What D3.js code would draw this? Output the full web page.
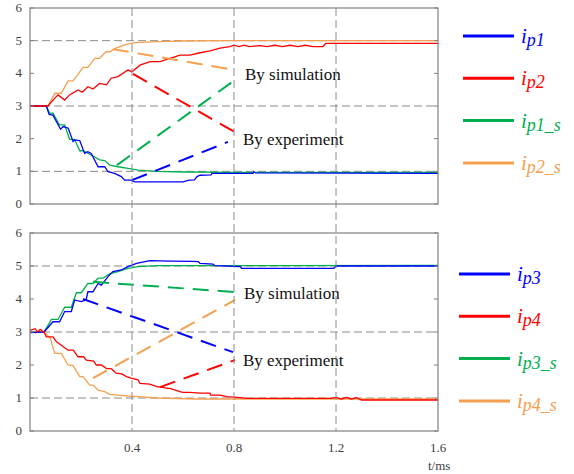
<!DOCTYPE html>
<html>
<head>
<meta charset="utf-8">
<script src="https://cdn.jsdelivr.net/npm/d3@7/dist/d3.min.js"></script>
<style>
body{margin:0;background:#fff;}
#chart{width:574px;height:474px;}
svg text{font-family:"Liberation Serif","DejaVu Serif",serif;}
</style>
</head>
<body>
<div id="chart"></div>
<script>
// t in ms, current in A
var ip1 = [[0,3.0],[0.064,3.0],[0.075,2.74],[0.09,2.72],[0.12,2.29],[0.13,2.37],[0.15,2.32],[0.169,1.91],[0.175,1.96],[0.195,1.94],[0.214,1.55],[0.227,1.6],[0.24,1.55],[0.267,1.14],[0.293,1.14],[0.306,0.99],[0.332,0.94],[0.358,0.84],[0.371,0.73],[0.397,0.73],[0.41,0.68],[0.6,0.68],[0.624,0.73],[0.645,0.74],[0.655,0.84],[0.667,0.88],[0.71,0.89],[0.714,0.94],[0.875,0.94],[0.878,0.99],[0.885,0.95],[1.6,0.94]];
var ip2 = [[0,3.0],[0.07,3.0],[0.09,3.18],[0.11,3.34],[0.136,3.18],[0.155,3.34],[0.188,3.49],[0.205,3.42],[0.227,3.59],[0.247,3.52],[0.273,3.69],[0.3,3.65],[0.318,3.85],[0.345,3.9],[0.384,4.1],[0.4,4.05],[0.431,4.25],[0.471,4.36],[0.51,4.36],[0.549,4.46],[0.588,4.56],[0.627,4.56],[0.667,4.63],[0.706,4.69],[0.745,4.77],[0.784,4.82],[0.8,4.86],[0.82,4.82],[0.84,4.86],[0.86,4.82],[0.9,4.85],[0.93,4.82],[0.96,4.86],[0.99,4.82],[1.02,4.86],[1.05,4.82],[1.08,4.86],[1.11,4.82],[1.149,4.82],[1.16,4.92],[1.6,4.92]];
var ip1_s = [[0,3.0],[0.064,3.0],[0.077,2.78],[0.09,2.78],[0.116,2.42],[0.136,2.42],[0.155,1.98],[0.175,1.98],[0.195,1.63],[0.208,1.63],[0.24,1.5],[0.273,1.35],[0.293,1.33],[0.313,1.19],[0.345,1.14],[0.384,1.09],[0.424,1.04],[0.5,1.0],[0.6,0.98],[0.8,0.97],[1.6,0.97]];
var ip2_s = [[0,3.0],[0.071,3.0],[0.097,3.39],[0.123,3.39],[0.149,3.77],[0.169,3.77],[0.208,4.18],[0.227,4.18],[0.254,4.46],[0.273,4.46],[0.298,4.66],[0.312,4.66],[0.337,4.77],[0.371,4.87],[0.41,4.94],[0.5,4.97],[0.6,4.99],[0.8,5.0],[1.6,5.0]];

var ip3 = [[0,2.98],[0.055,3.0],[0.09,3.31],[0.116,3.31],[0.136,3.62],[0.162,3.62],[0.175,3.97],[0.201,3.92],[0.22,3.97],[0.227,4.22],[0.247,4.22],[0.267,4.47],[0.28,4.42],[0.306,4.68],[0.325,4.83],[0.358,4.88],[0.384,4.98],[0.418,5.08],[0.47,5.16],[0.55,5.15],[0.64,5.14],[0.66,5.13],[0.667,5.08],[0.718,5.06],[0.725,5.01],[0.824,4.98],[0.83,4.93],[1.19,4.93],[1.203,5.0],[1.6,5.0]];
var ip4 = [[0,3.05],[0.02,3.1],[0.03,3.0],[0.04,3.08],[0.05,3.02],[0.055,3.0],[0.064,2.85],[0.09,2.85],[0.103,2.71],[0.123,2.6],[0.149,2.45],[0.17,2.45],[0.188,2.25],[0.21,2.25],[0.221,2.15],[0.25,2.12],[0.26,2.0],[0.28,2.0],[0.299,1.9],[0.32,1.88],[0.338,1.75],[0.36,1.73],[0.378,1.65],[0.397,1.6],[0.424,1.55],[0.431,1.44],[0.47,1.42],[0.5,1.34],[0.51,1.34],[0.54,1.29],[0.549,1.29],[0.588,1.19],[0.6,1.17],[0.627,1.17],[0.667,1.15],[0.706,1.15],[0.708,1.09],[0.745,1.09],[0.771,1.04],[0.824,1.01],[0.85,0.99],[1.18,0.99],[1.2,1.02],[1.22,0.97],[1.24,1.02],[1.26,0.97],[1.28,1.01],[1.3,0.94],[1.6,0.94]];
var ip3_s = [[0,3.0],[0.055,3.0],[0.084,3.38],[0.11,3.38],[0.136,3.75],[0.162,3.75],[0.182,4.19],[0.201,4.19],[0.227,4.47],[0.247,4.47],[0.267,4.63],[0.286,4.63],[0.312,4.76],[0.345,4.83],[0.384,4.93],[0.424,4.98],[0.5,5.01],[1.6,5.02]];
var ip4_s = [[0,3.0],[0.055,3.0],[0.08,2.81],[0.097,2.35],[0.123,2.35],[0.149,2.0],[0.169,1.98],[0.195,1.65],[0.208,1.65],[0.234,1.39],[0.247,1.39],[0.267,1.24],[0.293,1.19],[0.312,1.11],[0.345,1.09],[0.384,1.06],[0.424,1.04],[0.5,1.0],[0.65,0.97],[1.6,0.97]];

// pointer lines: [colour, t0, v0, t1, v1]
var top_pointers = [["#f5a050",0.325,4.74,0.804,4.10],["#ff0000",0.404,3.98,0.804,2.20],["#00b050",0.341,1.19,0.804,3.80],["#0000ff",0.4,0.73,0.776,1.90]];
var bot_pointers = [["#00b050",0.247,4.52,0.804,4.21],["#0000ff",0.208,4.0,0.796,2.39],["#f5a050",0.247,1.6,0.804,3.97],["#ff0000",0.51,1.33,0.804,2.15]];

var y_ticks = [0,1,2,3,4,5,6];
var y_grid = [1,3,5];
var x_ticks = [0.4,0.8,1.2,1.6];
var x_grid = [0.4,0.8,1.2];

var serif = "'Liberation Serif','DejaVu Serif',serif";

var svg = d3.select("#chart").append("svg")
    .attr("width",574)
    .attr("height",474)
    .attr("font-family",serif);

var xScale = d3.scaleLinear().domain([0,1.6]).range([30,438]);

function renderPanel(top,bottom,series,pointers,legend,labels){
    var yScale = d3.scaleLinear().domain([0,6]).range([bottom,top]);
    var g = svg.append("g");

    g.selectAll(".hgrid")
        .data(y_grid)
        .enter()
        .append("line")
        .attr("x1",xScale(0)).attr("x2",xScale(1.6))
        .attr("y1",function(d){return yScale(d);})
        .attr("y2",function(d){return yScale(d);})
        .attr("stroke","#8c8c8c")
        .attr("stroke-dasharray","8,4");

    var line = d3.line()
        .x(function(d){return xScale(d[0]);})
        .y(function(d){return yScale(d[1]);});

    series.forEach(function(s){
        g.append("path")
            .attr("d",line(s.data))
            .attr("fill","none")
            .attr("stroke",s.color)
            .attr("stroke-width",1.3);
    });

    g.selectAll(".pointer")
        .data(pointers)
        .enter()
        .append("line")
        .attr("x1",function(d){return xScale(d[1]);})
        .attr("y1",function(d){return yScale(d[2]);})
        .attr("x2",function(d){return xScale(d[3]);})
        .attr("y2",function(d){return yScale(d[4]);})
        .attr("stroke",function(d){return d[0];})
        .attr("stroke-width",2)
        .attr("stroke-dasharray","16,9");

    // frame
    g.append("rect")
        .attr("x",xScale(0)).attr("y",top)
        .attr("width",xScale(1.6)-xScale(0))
        .attr("height",bottom-top)
        .attr("fill","none")
        .attr("stroke","#808080")
        .attr("stroke-width",1.2);

    // inner ticks both sides
    g.selectAll(".rtick")
        .data(y_ticks)
        .enter()
        .append("line")
        .attr("x1",xScale(1.6)).attr("x2",xScale(1.6)-4)
        .attr("y1",function(d){return yScale(d);})
        .attr("y2",function(d){return yScale(d);})
        .attr("stroke","#808080");
    g.selectAll(".ltick")
        .data(y_ticks)
        .enter()
        .append("line")
        .attr("x1",xScale(0)).attr("x2",xScale(0)+4)
        .attr("y1",function(d){return yScale(d);})
        .attr("y2",function(d){return yScale(d);})
        .attr("stroke","#808080");

    g.selectAll(".ylab")
        .data(y_ticks)
        .enter()
        .append("text")
        .text(function(d){return d;})
        .attr("x",22)
        .attr("y",function(d){return yScale(d)+4;})
        .style("text-anchor","end")
        .style("font-family",serif)
        .style("font-size","13px")
        .style("fill","#404040");

    labels.forEach(function(l){
        g.append("text")
            .text(l.text)
            .attr("x",xScale(l.t))
            .attr("y",yScale(l.v))
            .style("font-family",serif)
            .style("font-size","17px")
            .style("fill","#111");
    });

    legend.items.forEach(function(it,i){
        var ly = legend.y0+i*legend.dy;
        g.append("line")
            .attr("x1",legend.x).attr("x2",legend.x+51)
            .attr("y1",ly).attr("y2",ly)
            .attr("stroke",it.color)
            .attr("stroke-width",3);
        var t = g.append("text")
            .attr("x",legend.x+58)
            .attr("y",ly+7)
            .style("font-family",serif)
            .style("font-style","italic")
            .style("fill",it.color);
        t.append("tspan").text("i").style("font-size","21px");
        t.append("tspan").text(it.sub).attr("dy",3).style("font-size","18px");
    });
}

var blue = "#0000ff", red = "#ff0000", green = "#00b050", orange = "#f5a050";

renderPanel(8,204,
    [{data:ip1_s,color:green},{data:ip2_s,color:orange},{data:ip1,color:blue},{data:ip2,color:red}],
    top_pointers,
    {x:463,y0:36,dy:42.3,items:[{sub:"p1",color:blue},{sub:"p2",color:red},{sub:"p1_s",color:green},{sub:"p2_s",color:orange}]},
    [{text:"By simulation",t:0.843,v:3.8},{text:"By experiment",t:0.835,v:1.8}]);

renderPanel(233,431,
    [{data:ip3_s,color:green},{data:ip4_s,color:orange},{data:ip3,color:blue},{data:ip4,color:red}],
    bot_pointers,
    {x:459,y0:274,dy:42.3,items:[{sub:"p3",color:blue},{sub:"p4",color:red},{sub:"p3_s",color:green},{sub:"p4_s",color:orange}]},
    [{text:"By simulation",t:0.839,v:3.99},{text:"By experiment",t:0.835,v:1.97}]);

// vertical grid runs through both panels
svg.selectAll(".vgrid")
    .data(x_grid)
    .enter()
    .append("line")
    .attr("x1",function(d){return xScale(d);})
    .attr("x2",function(d){return xScale(d);})
    .attr("y1",8).attr("y2",431)
    .attr("stroke","#8c8c8c")
    .attr("stroke-dasharray","8,4");

svg.selectAll(".xlab")
    .data(x_ticks)
    .enter()
    .append("text")
    .text(function(d){return d.toFixed(1);})
    .attr("x",function(d){return xScale(d);})
    .attr("y",452)
    .style("text-anchor","middle")
    .style("font-family",serif)
    .style("font-size","13px")
    .style("fill","#404040");

svg.append("text")
    .text("t/ms")
    .attr("x",428)
    .attr("y",470)
    .style("font-family",serif)
    .style("font-size","13px")
    .style("fill","#404040");
</script>
</body>
</html>
